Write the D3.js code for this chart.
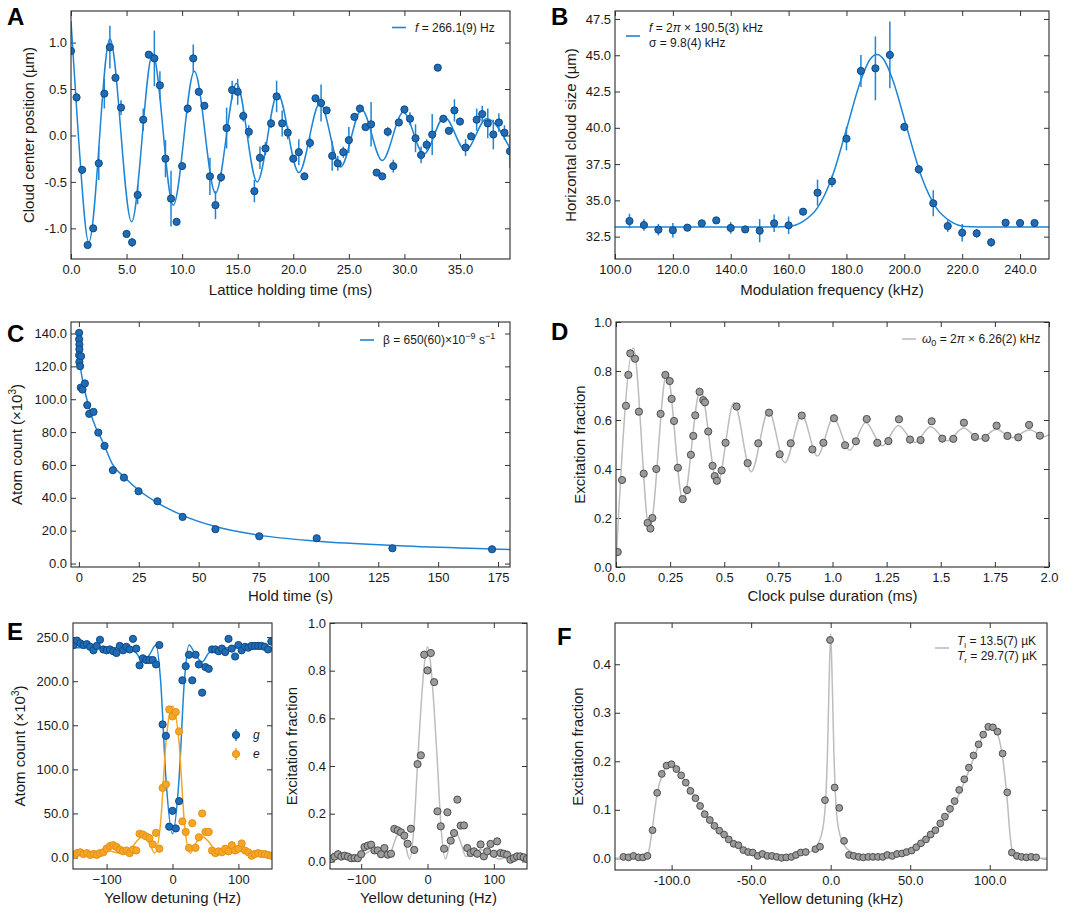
<!DOCTYPE html>
<html>
<head>
<meta charset="utf-8">
<script src="https://cdn.jsdelivr.net/npm/d3@7"></script>
<style>
  body { margin: 0; background: #fff; }
  svg { font-family: "Liberation Sans", Arial, Helvetica, sans-serif; }
</style>
</head>
<body>
<svg id="fig" width="1086" height="913"></svg>
<script>
// ---- panel A : cloud centre oscillation  [t (ms), y (um), err]
var aPoints = [[0,0.91,0.03],[0.5,0.41,0.05],[1,-0.37,0.04],[1.5,-1.18,0.03],[2,-1.0,0.03],[2.5,-0.30,0.18],[3,0.45,0.16],[3.5,0.95,0.23],[4,0.62,0.03],[4.5,0.30,0.08],[5,-1.06,0.03],[5.5,-1.15,0.05],[6,-0.64,0.1],[6.5,0.17,0.12],[7,0.87,0.03],[7.5,0.83,0.3],[8,0.54,0.15],[8.5,-0.25,0.2],[9,-0.68,0.3],[9.5,-0.93,0.03],[10,-0.33,0.04],[10.5,0.29,0.05],[11,0.83,0.15],[11.5,0.47,0.04],[12,0.32,0.04],[12.5,-0.44,0.2],[13,-0.75,0.15],[13.5,-0.45,0.05],[14,0.08,0.22],[14.5,0.49,0.1],[15,0.47,0.14],[15.5,0.21,0.06],[16,0.04,0.07],[16.5,-0.60,0.12],[17,-0.24,0.12],[17.5,-0.14,0.07],[18,0.13,0.05],[18.5,0.42,0.17],[19,0.13,0.14],[19.5,0.03,0.07],[20,-0.25,0.04],[20.5,-0.18,0.14],[21,-0.44,0.04],[21.5,-0.08,0.06],[22,0.40,0.03],[22.5,0.35,0.2],[23,0.27,0.03],[23.5,-0.22,0.16],[24,-0.30,0.08],[24.5,-0.18,0.06],[25,-0.05,0.14],[25.5,0.20,0.04],[26,0.29,0.04],[26.5,0.09,0.03],[27,0.12,0.24],[27.5,-0.40,0.03],[28,-0.44,0.03],[28.5,0.04,0.05],[29,-0.33,0.07],[29.5,0.14,0.04],[30,0.28,0.04],[30.5,0.18,0.07],[31,-0.03,0.15],[31.5,-0.21,0.09],[32,-0.10,0.06],[32.5,0.01,0.22],[33,0.73,0.03],[33.5,0.18,0.04],[34,0.05,0.03],[34.5,0.27,0.12],[35,0.15,0.04],[35.5,-0.13,0.09],[36,-0.01,0.04],[36.5,0.17,0.12],[37,0.23,0.09],[37.5,0.13,0.16],[38,0.01,0.16],[38.5,0.14,0.1],[39,0.03,0.08],[39.5,-0.17,0.18]];
// fit curve (extrema)
var aFit = [[0,1.23],[0.65,0.02],[1.6,-1.15],[3.5,1.04],[5.45,-0.93],[7.35,0.88],[9.2,-0.75],[11.1,0.69],[13.0,-0.62],[14.9,0.56],[16.75,-0.50],[18.6,0.45],[20.5,-0.40],[22.4,0.35],[24.25,-0.34],[26.15,0.28],[28.0,-0.27],[29.9,0.25],[31.75,-0.20],[33.6,0.20],[35.5,-0.16],[37.4,0.18],[39.5,-0.14]];
var aXTicks = [0, 5, 10, 15, 20, 25, 30, 35];
var aYTicks = [-1, -0.5, 0, 0.5, 1];

// ---- panel B : modulation spectroscopy  [f (kHz), size (um), err]
var bPoints = [[105,33.58,0.5],[110,33.30,0.4],[115,32.98,0.4],[120,32.94,0.5],[125,33.12,0.2],[130,33.42,0.2],[135,33.62,0.2],[140,33.10,0.4],[145,33.0,0.2],[150,32.91,0.8],[155,33.42,0.6],[160,33.28,0.6],[165,34.22,0.2],[170,35.53,0.9],[175,36.31,0.4],[180,39.25,0.8],[185,43.92,1.1],[190,44.10,2.2],[195,45.02,2.3],[200,40.06,0.3],[205,37.14,0.3],[210,34.80,0.9],[215,33.23,0.4],[220,32.77,0.6],[225,32.73,0.3],[230,32.11,0.3],[235,33.46,0.2],[240,33.44,0.1],[245,33.44,0.1]];
var bFit = [[100,33.16],[150,33.16],[160,33.2],[165,33.55],[170,34.5],[175,36.6],[180,39.9],[185,43.3],[188,44.67],[190.5,45.05],[193,44.67],[196,43.3],[201,39.9],[206,36.6],[211,34.5],[216,33.55],[221,33.2],[230,33.16],[250,33.16]];
var bXTicks = [100, 120, 140, 160, 180, 200, 220, 240];
var bYTicks = [32.5, 35, 37.5, 40, 42.5, 45, 47.5];

// ---- panel C : atom loss  [t (s), N (x1e3)]
var cPoints = [[0.1,140.4],[0.1,136.5],[0.2,133.3],[0.2,130.4],[0.1,126.8],[0.2,122.7],[0.5,120.1],[0.9,126.2],[0.8,107.1],[1.5,105.9],[2.5,109.6],[3.5,96.4],[4.3,91.1],[6.1,92.3],[8.1,79.7],[10.7,71.6],[14.2,56.8],[18.8,52.3],[24.9,44.0],[32.8,37.9],[43.3,28.4],[57.0,20.9],[75.3,16.6],[99.3,15.4],[130.9,9.3],[172.5,8.7]];
var cFit = [[0.3,124],[1,116],[2,108],[3.5,99],[5,91],[7,83],[10,74],[14,60.5],[19,52.5],[25,44.6],[33,36.8],[43,29.5],[57,22.5],[75,17.3],[100,13.6],[131,11.0],[172,8.9],[180,8.5]];
var cXTicks = [0, 25, 50, 75, 100, 125, 150, 175];
var cYTicks = [0, 20, 40, 60, 80, 100, 120, 140];

// ---- panel D : Rabi flopping  [t (ms), fraction]
var dPoints = [[0.008,0.061],[0.028,0.355],[0.046,0.658],[0.057,0.784],[0.066,0.872],[0.088,0.850],[0.106,0.634],[0.128,0.381],[0.146,0.180],[0.159,0.157],[0.168,0.200],[0.186,0.400],[0.206,0.625],[0.228,0.784],[0.248,0.759],[0.257,0.686],[0.268,0.596],[0.286,0.405],[0.308,0.277],[0.328,0.314],[0.346,0.458],[0.357,0.535],[0.366,0.619],[0.386,0.715],[0.403,0.681],[0.411,0.672],[0.426,0.553],[0.446,0.413],[0.456,0.371],[0.466,0.352],[0.488,0.394],[0.506,0.507],[0.557,0.655],[0.608,0.424],[0.657,0.505],[0.707,0.630],[0.756,0.460],[0.807,0.505],[0.858,0.618],[0.907,0.480],[0.958,0.507],[1.007,0.607],[1.058,0.497],[1.108,0.513],[1.158,0.604],[1.207,0.507],[1.258,0.514],[1.307,0.603],[1.358,0.520],[1.407,0.518],[1.458,0.595],[1.507,0.524],[1.558,0.523],[1.607,0.589],[1.658,0.531],[1.707,0.527],[1.758,0.577],[1.808,0.535],[1.858,0.529],[1.908,0.580],[1.958,0.536]];
var dFit = [[0,0.02],[0.08,0.894],[0.155,0.15],[0.235,0.795],[0.31,0.269],[0.39,0.726],[0.468,0.34],[0.545,0.671],[0.624,0.389],[0.705,0.637],[0.78,0.426],[0.858,0.621],[0.93,0.453],[1.004,0.607],[1.08,0.477],[1.153,0.590],[1.23,0.495],[1.304,0.578],[1.38,0.508],[1.453,0.572],[1.53,0.515],[1.605,0.567],[1.68,0.522],[1.757,0.562],[1.83,0.528],[1.91,0.560],[1.98,0.532],[2.0,0.54]];
var dXTicks = [0, 0.25, 0.5, 0.75, 1, 1.25, 1.5, 1.75, 2];
var dXLabels = ["0.0", "0.25", "0.5", "0.75", "1.0", "1.25", "1.5", "1.75", "2.0"];
var dYTicks = [0, 0.2, 0.4, 0.6, 0.8, 1];

// ---- panel E (left) : populations vs detuning (Hz)
var eDetuning = [-150,-145,-140,-135,-130,-125,-120,-115,-110,-105,-100,-95,-90,-85,-80,-75,-70,-65,-60,-55,-50,-45,-40,-35,-30,-25,-20,-15,-10,-5,0,5,10,15,20,25,30,35,40,45,50,55,60,65,70,75,80,85,90,95,100,105,110,115,120,125,130,135,140,145,150];
var gCount = [241,246,243,241,242,239,235,240,247,236,235,236,234,232,240,235,239,236,248,237,218,226,224,224,224,219,241,151,138,35,53,33,64,201,217,230,201,230,219,187,216,214,236,236,234,237,233,248,237,228,241,235,239,238,240,240,240,240,239,236,245];
var eCount = [3,5,6,4,5,3,4,3,5,6,10,13,14,12,9,7,8,5,9,8,27,26,24,22,15,28,10,79,83,168,160,165,143,41,29,11,39,11,23,50,29,29,8,5,7,6,10,7,14,8,10,16,8,6,2,4,5,4,4,3,2];
var gFit = [[-151,238],[-80,238],[-65,236],[-55,232],[-45,222],[-35,230],[-25,241],[-18,200],[-10,90],[0,27],[10,90],[18,200],[25,241],[35,230],[45,222],[55,232],[65,236],[80,238],[151,238]];
var eFit = [[-151,3],[-100,8],[-80,5],[-65,8],[-55,18],[-45,24],[-35,16],[-27,5],[-18,40],[-10,130],[0,172],[10,130],[18,40],[27,5],[35,16],[45,24],[55,18],[65,8],[80,5],[100,8],[151,3]];
var e1XTicks = [-100, 0, 100];
var e1YTicks = [0, 50, 100, 150, 200, 250];

// ---- panel E (right) : excitation fraction vs detuning (Hz)
var fracDetuning = [-145,-140,-135,-130,-125,-120,-115,-110,-105,-100,-95,-90,-85,-80,-75,-70,-65,-60,-55,-50,-45,-40,-35,-30,-25,-20,-15,-10,-5,0,5,10,15,20,25,30,35,40,45,50,55,60,65,70,75,80,85,90,95,100,105,110,115,120,125,130,135,140,145,150];
var fracValue = [0.01,0.02,0.03,0.02,0.024,0.02,0.013,0.014,0.013,0.03,0.06,0.066,0.07,0.046,0.046,0.03,0.056,0.028,0.032,0.136,0.13,0.122,0.108,0.074,0.137,0.048,0.408,0.445,0.867,0.801,0.874,0.752,0.21,0.147,0.053,0.206,0.087,0.119,0.259,0.15,0.151,0.056,0.035,0.042,0.032,0.071,0.021,0.042,0.073,0.032,0.084,0.035,0.032,0.028,0.007,0.014,0.021,0.021,0.017,0.01];
var fracFit = [[-150,0.015],[-125,0.02],[-108,0.01],[-95,0.03],[-80,0.05],[-68,0.03],[-58,0.02],[-50,0.08],[-42,0.125],[-35,0.09],[-27,0.01],[-20,0.16],[-15,0.41],[-10,0.64],[-5,0.82],[0,0.90],[5,0.82],[10,0.64],[15,0.41],[20,0.16],[27,0.01],[35,0.09],[42,0.125],[50,0.08],[58,0.02],[68,0.03],[80,0.05],[95,0.03],[108,0.01],[125,0.02],[150,0.015]];
var e2XTicks = [-100, 0, 100];
var e2YTicks = [0, 0.2, 0.4, 0.6, 0.8, 1];

// ---- panel F : sideband spectrum  [detuning (kHz), fraction]
var fPoints = [[-130.3,0.003],[-127.1,0.002],[-124,0.005],[-120.8,0.002],[-118,0.002],[-115.2,0.005],[-112,0.058],[-109.1,0.135],[-106.2,0.174],[-103.2,0.191],[-100.1,0.194],[-97,0.184],[-94,0.171],[-91.1,0.156],[-88.2,0.139],[-85,0.124],[-82.1,0.108],[-79.2,0.091],[-76,0.079],[-73.1,0.067],[-70,0.057],[-67,0.049],[-64.1,0.039],[-61,0.030],[-58,0.027],[-54.9,0.017],[-51.9,0.013],[-49,0.012],[-45.9,0.005],[-42.9,0.009],[-39.8,0.005],[-36.9,0.005],[-33.9,0.003],[-30.8,0.001],[-27.9,0.002],[-24.7,0.003],[-21.8,0.007],[-18.8,0.012],[-15.7,0.013],[-9.6,0.019],[-6.7,0.024],[-3.6,0.12],[-0.4,0.45],[2.5,0.146],[5.4,0.104],[8.4,0.036],[11.5,0.007],[14.5,0.005],[17.6,0.003],[20.5,0.002],[23.7,0.003],[26.6,0.003],[29.7,0.003],[32.7,0.003],[35.6,0.007],[38.7,0.005],[41.7,0.009],[44.8,0.01],[47.7,0.013],[50.9,0.016],[53.8,0.023],[56.8,0.031],[59.9,0.039],[62.8,0.049],[65.8,0.058],[68.9,0.072],[71.8,0.086],[75,0.102],[77.9,0.118],[80.8,0.141],[84,0.163],[86.9,0.187],[89.8,0.212],[93,0.235],[95.9,0.255],[99.1,0.271],[102,0.270],[104.9,0.261],[108.1,0.216],[111,0.136],[113.9,0.012],[117.1,0.005],[120,0.003],[123.1,0.002],[126.1,0.003],[129.2,0.002]];
var fFit = [[-136,0],[-116,0.001],[-114,0.02],[-112,0.065],[-109,0.135],[-106,0.172],[-103,0.19],[-100,0.195],[-97,0.186],[-94,0.172],[-91,0.156],[-88,0.14],[-85,0.124],[-80,0.098],[-75,0.075],[-70,0.057],[-65,0.042],[-60,0.03],[-55,0.02],[-50,0.013],[-45,0.008],[-40,0.005],[-30,0.004],[-20,0.007],[-12,0.015],[-8,0.03],[-5,0.06],[-3,0.13],[-2,0.22],[-1,0.36],[0,0.463],[1,0.36],[2,0.22],[3,0.13],[5,0.06],[8,0.03],[12,0.015],[20,0.006],[30,0.004],[40,0.008],[50,0.016],[55,0.024],[60,0.036],[65,0.052],[70,0.072],[75,0.096],[80,0.127],[85,0.165],[90,0.207],[95,0.248],[98,0.266],[100,0.272],[103,0.265],[105,0.255],[108,0.21],[111,0.12],[113,0.04],[115,0.005],[117,0],[136,0]];
var fXTicks = [-100, -50, 0, 50, 100];
var fYTicks = [0, 0.1, 0.2, 0.3, 0.4];

// ---------------------------------------------------------------
var FONT = '"Liberation Sans", Arial, Helvetica, sans-serif';
var BLUE = "#1f6cb5", BLUE_EDGE = "#0e4a86", BLUE_LINE = "#1e84d6";
var GRAY = "#9b9b9b", GRAY_EDGE = "#4d4d4d", GRAY_LINE = "#bdbdbd";
var ORANGE = "#f6a623", ORANGE_EDGE = "#e3921a", ORANGE_LINE = "#f6a623";
var INK = "#1a1a1a";

var svg = d3.select("#fig");
var fix1 = function (d) { return d.toFixed(1); };

function panel(o) {
  var w = o.box[2] - o.box[0], h = o.box[3] - o.box[1];
  var g = svg.append("g").attr("transform", "translate(" + o.box[0] + "," + o.box[1] + ")");
  var x = d3.scaleLinear().domain(o.xd).range([0, w]);
  var y = d3.scaleLinear().domain(o.yd).range([h, 0]);

  g.append("clipPath").attr("id", "clip-" + o.id)
    .append("rect").attr("width", w).attr("height", h);

  var axes = [
    [d3.axisBottom(x).tickValues(o.xt).tickFormat(o.xf).tickPadding(6), "translate(0," + h + ")"],
    [d3.axisTop(x).tickValues(o.xt).tickFormat(""), null],
    [d3.axisLeft(y).tickValues(o.yt).tickFormat(o.yf).tickPadding(4), null],
    [d3.axisRight(y).tickValues(o.yt).tickFormat(""), "translate(" + w + ",0)"]
  ];
  axes.forEach(function (a) {
    var ag = g.append("g").attr("transform", a[1])
      .call(a[0].tickSize(-5).tickSizeOuter(0));
    ag.attr("font-family", FONT).attr("font-size", 13);
    ag.select(".domain").remove();
    ag.selectAll(".tick line").attr("stroke", "#333").attr("stroke-width", 1);
    ag.selectAll(".tick text").attr("fill", INK);
  });

  var plot = g.append("g").attr("clip-path", "url(#clip-" + o.id + ")");

  g.append("rect").attr("width", w).attr("height", h)
    .attr("fill", "none").attr("stroke", "#2b2b2b").attr("stroke-width", 1.1);

  // axis titles
  svg.append("text").attr("x", (o.box[0] + o.box[2]) / 2).attr("y", o.xlabY)
    .attr("text-anchor", "middle").attr("font-size", 15).attr("fill", INK)
    .text(o.xlab);
  var yl = svg.append("text")
    .attr("transform", "translate(" + o.ylabX + "," + (o.box[1] + o.box[3]) / 2 + ")rotate(-90)")
    .attr("text-anchor", "middle").attr("font-size", 15).attr("fill", INK);
  if (o.ylabFn) o.ylabFn(yl); else yl.text(o.ylab);

  if (o.letter) {
    svg.append("text").attr("x", o.letter[1]).attr("y", o.letter[2])
      .attr("font-size", 24).attr("font-weight", "bold").attr("fill", "#000")
      .text(o.letter[0]);
  }
  return { g: g, plot: plot, x: x, y: y };
}

function fitLine(p, data, color, width) {
  p.plot.append("path").datum(data)
    .attr("fill", "none").attr("stroke", color).attr("stroke-width", width || 1.5)
    .attr("d", d3.line().x(function (d) { return p.x(d[0]); })
      .y(function (d) { return p.y(d[1]); }).curve(d3.curveMonotoneX));
}

function dots(p, data, fill, edge, r) {
  p.plot.append("g").selectAll("circle").data(data).enter().append("circle")
    .attr("cx", function (d) { return p.x(d[0]); })
    .attr("cy", function (d) { return p.y(d[1]); })
    .attr("r", r || 3.6)
    .attr("fill", fill).attr("stroke", edge).attr("stroke-width", 1);
}

function errBars(p, data, color) {
  p.plot.append("g").selectAll("line").data(data).enter().append("line")
    .attr("x1", function (d) { return p.x(d[0]); })
    .attr("x2", function (d) { return p.x(d[0]); })
    .attr("y1", function (d) { return p.y(d[1] - d[2]); })
    .attr("y2", function (d) { return p.y(d[1] + d[2]); })
    .attr("stroke", color).attr("stroke-width", 1.5);
}

function legendLine(x, y, color) {
  svg.append("line").attr("x1", x).attr("x2", x + 14).attr("y1", y).attr("y2", y)
    .attr("stroke", color).attr("stroke-width", 1.6);
}

function atomLabel(t) {
  t.text("Atom count (×10");
  t.append("tspan").attr("font-size", 10).attr("dy", -6).text("3");
  t.append("tspan").attr("dy", 6).text(")");
}

// ---- A
var pA = panel({ id: "a", box: [71, 11, 510, 259], xd: [0, 39.5], yd: [-1.33, 1.34],
  xt: aXTicks, yt: aYTicks, xf: fix1, yf: fix1,
  xlab: "Lattice holding time (ms)", xlabY: 295, ylab: "Cloud center position (µm)", ylabX: 34,
  letter: ["A", 7, 25] });
fitLine(pA, aFit, BLUE_LINE);
errBars(pA, aPoints, BLUE_LINE);
dots(pA, aPoints, BLUE, BLUE_EDGE);
legendLine(392, 27.5, BLUE_LINE);
var ta = svg.append("text").attr("x", 415).attr("y", 32).attr("font-size", 12).attr("fill", INK);
ta.append("tspan").attr("font-style", "italic").text("f");
ta.append("tspan").text(" = 266.1(9) Hz");

// ---- B
var pB = panel({ id: "b", box: [615, 11, 1049, 259], xd: [100, 250], yd: [30.96, 48.05],
  xt: bXTicks, yt: bYTicks, xf: fix1, yf: fix1,
  xlab: "Modulation frequency (kHz)", xlabY: 295, ylab: "Horizontal cloud size (µm)", ylabX: 576,
  letter: ["B", 551, 25] });
fitLine(pB, bFit, BLUE_LINE);
errBars(pB, bPoints, BLUE_LINE);
dots(pB, bPoints, BLUE, BLUE_EDGE);
legendLine(626, 36, BLUE_LINE);
var tb = svg.append("text").attr("x", 649).attr("y", 32).attr("font-size", 12).attr("fill", INK);
tb.append("tspan").attr("font-style", "italic").text("f");
tb.append("tspan").text(" = 2");
tb.append("tspan").attr("font-style", "italic").text("π");
tb.append("tspan").text(" × 190.5(3) kHz");
svg.append("text").attr("x", 649).attr("y", 47).attr("font-size", 12).attr("fill", INK)
  .text("σ = 9.8(4) kHz");

// ---- C
var pC = panel({ id: "c", box: [71, 322, 510, 567], xd: [-3.3, 180], yd: [-2.1, 147],
  xt: cXTicks, yt: cYTicks, xf: d3.format("d"), yf: fix1,
  xlab: "Hold time (s)", xlabY: 601, ylabFn: atomLabel, ylabX: 22,
  letter: ["C", 7, 342] });
fitLine(pC, cFit, BLUE_LINE);
dots(pC, cPoints, BLUE, BLUE_EDGE);
legendLine(360, 340, BLUE_LINE);
var tc = svg.append("text").attr("x", 383).attr("y", 344).attr("font-size", 12).attr("fill", INK);
tc.append("tspan").text("β = 650(60)×10");
tc.append("tspan").attr("font-size", 9).attr("dy", -5).text("−9");
tc.append("tspan").attr("dy", 5).text(" s");
tc.append("tspan").attr("font-size", 9).attr("dy", -5).text("−1");

// ---- D
var pD = panel({ id: "d", box: [616, 322, 1049, 567], xd: [0, 2], yd: [0, 1],
  xt: dXTicks, yt: dYTicks, xf: function (d, i) { return dXLabels[i]; }, yf: fix1,
  xlab: "Clock pulse duration (ms)", xlabY: 601, ylab: "Excitation fraction", ylabX: 585,
  letter: ["D", 551, 340] });
fitLine(pD, dFit, GRAY_LINE);
dots(pD, dPoints, GRAY, GRAY_EDGE);
legendLine(902, 339, GRAY_LINE);
var td = svg.append("text").attr("x", 922).attr("y", 343).attr("font-size", 12).attr("fill", INK);
td.append("tspan").attr("font-style", "italic").text("ω");
td.append("tspan").attr("font-size", 9).attr("dy", 3).text("0");
td.append("tspan").attr("dy", -3).text(" = 2");
td.append("tspan").attr("font-style", "italic").text("π");
td.append("tspan").text(" × 6.26(2) kHz");

// ---- E left
var pE1 = panel({ id: "e1", box: [73, 623, 272, 869], xd: [-151, 151], yd: [-13, 266],
  xt: e1XTicks, yt: e1YTicks, xf: d3.format("d"), yf: fix1,
  xlab: "Yellow detuning (Hz)", xlabY: 903, ylabFn: atomLabel, ylabX: 25,
  letter: ["E", 7, 640] });
var gPts = eDetuning.map(function (d, i) { return [d, gCount[i]]; });
var ePts = eDetuning.map(function (d, i) { return [d, eCount[i]]; });
fitLine(pE1, gFit, BLUE_LINE);
fitLine(pE1, eFit, ORANGE_LINE);
dots(pE1, gPts, BLUE, BLUE_EDGE);
dots(pE1, ePts, ORANGE, ORANGE_EDGE);
[["g", 735, BLUE, BLUE_EDGE, BLUE_LINE], ["e", 754, ORANGE, ORANGE_EDGE, ORANGE_LINE]].forEach(function (l) {
  svg.append("line").attr("x1", 236).attr("x2", 236).attr("y1", l[1] - 6).attr("y2", l[1] + 6)
    .attr("stroke", l[4]).attr("stroke-width", 1.5);
  svg.append("circle").attr("cx", 236).attr("cy", l[1]).attr("r", 3.6)
    .attr("fill", l[2]).attr("stroke", l[3]);
  svg.append("text").attr("x", 253).attr("y", l[1] + 4).attr("font-size", 12)
    .attr("font-style", "italic").attr("fill", INK).text(l[0]);
});

// ---- E right
var pE2 = panel({ id: "e2", box: [330, 623, 527, 869], xd: [-147, 150], yd: [-0.032, 1.0],
  xt: e2XTicks, yt: e2YTicks, xf: d3.format("d"), yf: fix1,
  xlab: "Yellow detuning (Hz)", xlabY: 903, ylab: "Excitation fraction", ylabX: 297 });
fitLine(pE2, fracFit, GRAY_LINE);
dots(pE2, fracDetuning.map(function (d, i) { return [d, fracValue[i]]; }), GRAY, GRAY_EDGE);

// ---- F
var pF = panel({ id: "f", box: [615, 623, 1047, 870], xd: [-135.6, 136], yd: [-0.024, 0.485],
  xt: fXTicks, yt: fYTicks, xf: fix1, yf: fix1,
  xlab: "Yellow detuning (kHz)", xlabY: 904, ylab: "Excitation fraction", ylabX: 583,
  letter: ["F", 557, 645] });
fitLine(pF, fFit, GRAY_LINE);
dots(pF, fPoints, GRAY, GRAY_EDGE, 3.4);
legendLine(935, 648, GRAY_LINE);
[["l", "13.5(7)", 645], ["r", "29.7(7)", 660]].forEach(function (l) {
  var t = svg.append("text").attr("x", 957).attr("y", l[2]).attr("font-size", 12).attr("fill", INK);
  t.append("tspan").attr("font-style", "italic").text("T");
  t.append("tspan").attr("font-size", 8).attr("dy", 3).text(l[0]);
  t.append("tspan").attr("dy", -3).text(" = " + l[1] + " µK");
});
</script>
</body>
</html>
